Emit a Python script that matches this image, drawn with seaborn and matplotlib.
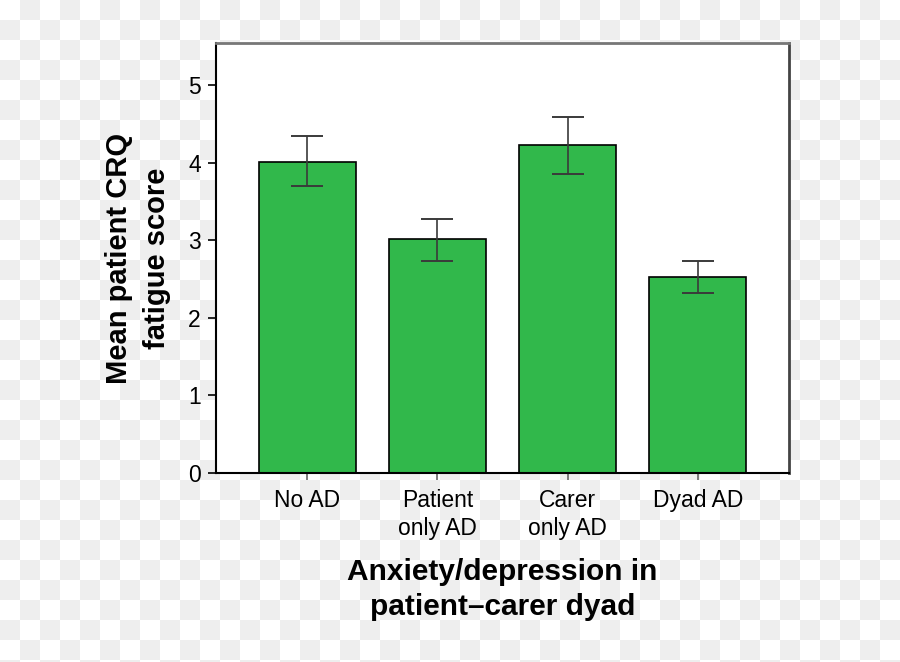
import numpy as np
import pandas as pd
import seaborn as sns
import matplotlib.pyplot as plt

groups = ["No AD", "Patient\nonly AD", "Carer\nonly AD", "Dyad AD"]
mean_score = [4.01, 3.01, 4.22, 2.52]
err_low = [3.70, 2.73, 3.85, 2.32]
err_high = [4.34, 3.27, 4.59, 2.73]

df = pd.DataFrame({"group": groups, "score": mean_score})

sns.set_style("white")
plt.rcParams["font.family"] = ["Liberation Sans", "DejaVu Sans"]
plt.rcParams["text.color"] = "black"
plt.rcParams["axes.labelcolor"] = "black"
plt.rcParams["xtick.color"] = "black"
plt.rcParams["ytick.color"] = "black"

fig = plt.figure(figsize=(9, 6.62), dpi=100)

# checkerboard backdrop
W, H, sq = 900, 662, 20
yy, xx = np.mgrid[0:H, 0:W]
board = np.where(((xx // sq) + (yy // sq)) % 2 == 0, 1.0, 0.937)
bg = fig.add_axes([0, 0, 1, 1], zorder=-10)
bg.imshow(np.dstack([board] * 3), aspect="auto", extent=[0, 1, 0, 1])
bg.axis("off")

ax = fig.add_axes([0.24, 0.2855, 0.6367, 0.6495])
sns.barplot(data=df, x="group", y="score", color="#31b84b", saturation=1,
            edgecolor="black", linewidth=1.2, width=0.746, ax=ax)

m = np.array(mean_score)
yerr = [m - np.array(err_low), np.array(err_high) - m]
ax.errorbar(range(len(groups)), mean_score, yerr=yerr, fmt="none",
            ecolor="#3a3a3a", elinewidth=1.2, capsize=11.5, capthick=1.4, zorder=5)

ax.set_xlim(-0.70, 3.70)
ax.set_ylim(0, 5.54)
ax.set_yticks([0, 1, 2, 3, 4, 5])
ax.set_facecolor("white")

for s in ["left", "bottom"]:
    ax.spines[s].set_color("black")
    ax.spines[s].set_linewidth(1.5)
ax.spines["top"].set_color("#777777")
ax.spines["top"].set_linewidth(2)
ax.spines["right"].set_color("#444444")
ax.spines["right"].set_linewidth(2)

ax.tick_params(axis="y", direction="out", length=6, width=1.2, colors="black",
               labelsize=16.5, left=True, pad=5)
ax.tick_params(axis="x", direction="out", length=5, width=1.2, color="#666666",
               labelcolor="black", labelsize=16.5, bottom=True, pad=6.5)
for lab in ax.get_xticklabels():
    lab.set_linespacing(1.3)

ax.set_xlabel("Anxiety/depression in\npatient\u2013carer dyad", fontsize=21.5,
              fontweight="bold", labelpad=13, linespacing=1.32)
ax.set_ylabel("Mean patient CRQ\nfatigue score", fontsize=21,
              fontweight="bold", labelpad=12, linespacing=1.45)

fig.savefig("out.png", dpi=100)
